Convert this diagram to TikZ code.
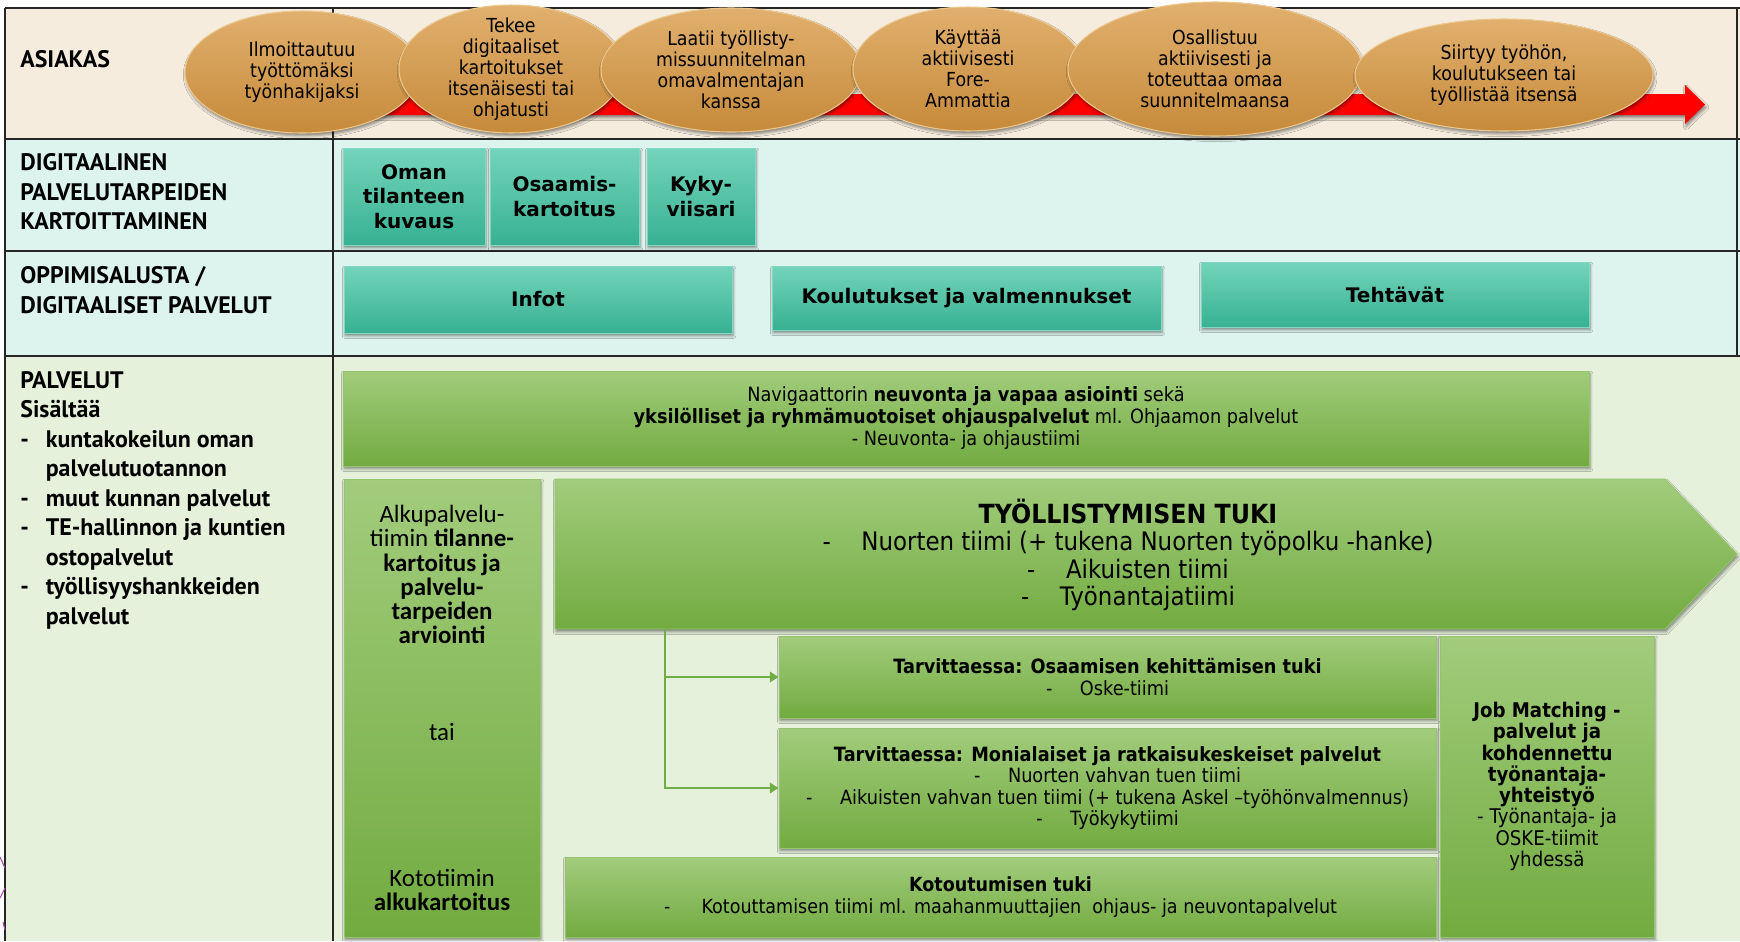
\documentclass[tikz,border=0pt]{standalone}
\usepackage{fontspec}
\usetikzlibrary{shapes.geometric,shadows.blur,arrows.meta}
\newfontfamily\tahoma[FakeStretch=0.9]{DejaVu Sans}
\newfontfamily\verdana{DejaVu Sans}
\newfontfamily\gothic{PT Sans}
\newfontfamily\calibri{Carlito}
\definecolor{rivibeige}{RGB}{245,236,222}
\definecolor{rivisyaani}{RGB}{221,243,238}
\definecolor{rivivihrea}{RGB}{230,241,220}
\definecolor{kultayla}{RGB}{225,176,110}
\definecolor{kultaala}{RGB}{198,138,58}
\definecolor{kultareuna}{RGB}{236,200,142}
\definecolor{turkoosiyla}{RGB}{115,212,187}
\definecolor{turkoosiala}{RGB}{55,177,146}
\definecolor{turkoosireuna}{RGB}{130,215,192}
\definecolor{vihreayla}{RGB}{162,204,124}
\definecolor{vihreaala}{RGB}{114,171,64}
\definecolor{vihreareuna}{RGB}{150,195,110}
\definecolor{viiva}{RGB}{112,173,71}
\tikzset{
	varjo/.style={blur shadow={shadow xshift=0.6pt, shadow yshift=-1.6pt, shadow blur radius=1.6pt, shadow opacity=45}},
	koko/.style 2 args={minimum width=#1*0.02cm, minimum height=#2*0.02cm},
	pallo/.style={ellipse, draw=kultareuna, line width=0.6pt, top color=kultayla, bottom color=kultaala, inner xsep=0pt, inner ysep=-14pt, align=center, font=\tahoma\fontsize{11}{12}\selectfont, varjo},
	laatta/.style={rectangle, draw=turkoosireuna, line width=0.5pt, top color=turkoosiyla, bottom color=turkoosiala, inner sep=0pt, align=center, font=\verdana\bfseries\fontsize{11.4}{13.8}\selectfont, varjo},
	palvelu/.style={rectangle, draw=vihreareuna, line width=0.5pt, top color=vihreayla, bottom color=vihreaala, inner sep=0pt, align=center, varjo},
	otsake/.style={anchor=west, inner sep=0pt, align=left, font=\gothic\bfseries\fontsize{13.6}{16.8}\selectfont},
	nuoli/.style={draw=viiva, line width=1.2pt, -{Triangle[length=5pt,width=6pt]}}
}

\begin{document}
\begin{tikzpicture}[x=0.02cm, y=-0.02cm]
	\useasboundingbox (0,0) rectangle (1740,941);
	\fill[white] (0,0) rectangle (1740,941);
	% taulukon rivit
	\fill[rivibeige] (5,8) rectangle (1740,139);
	\fill[rivisyaani] (5,139) rectangle (1740,356);
	\fill[rivivihrea] (5,356) rectangle (1740,941);
	\draw[line width=1.1pt, black!85] (5,8) -- (1740,8) (5,139) -- (1740,139) (5,251) -- (1740,251) (5,356) -- (1740,356) (5,8) -- (5,941) (333,8) -- (333,941) (1737,8) -- (1737,356);
	\draw[violet!70, line width=0.6pt] (0,857) -- (5,868) (5,888) -- (0,898) (3,922) -- (5,930);

	\node[otsake] (asiakas) at (20,59) {ASIAKAS};
	\node[otsake] (digitaalinen) at (20,192) {DIGITAALINEN\\PALVELUTARPEIDEN\\KARTOITTAMINEN};
	\node[otsake] (oppimisalusta) at (20,290) {OPPIMISALUSTA /\\DIGITAALISET PALVELUT};
	\node[otsake] (palvelut) at (20,500) {PALVELUT\\Sisältää\\\makebox[14.5pt][l]{-}kuntakokeilun oman\\\hspace*{14.5pt}palvelutuotannon\\\makebox[14.5pt][l]{-}muut kunnan palvelut\\\makebox[14.5pt][l]{-}TE-hallinnon ja kuntien\\\hspace*{14.5pt}ostopalvelut\\\makebox[14.5pt][l]{-}työllisyyshankkeiden\\\hspace*{14.5pt}palvelut};

	% asiakkaan polku
	\fill[red, varjo] (340,94) -- (1685,94) -- (1685,85) -- (1705,104.5) -- (1685,124) -- (1685,115) -- (340,115) -- cycle;
	\node[pallo, koko={234}{122}] (ilmoittautuu) at (302,72) {Ilmoittautuu\\työttömäksi\\työnhakijaksi};
	\node[pallo, koko={224}{128}] (tekee) at (511,69) {Tekee\\digitaaliset\\kartoitukset\\itsenäisesti tai\\ohjatusti};
	\node[pallo, koko={260}{124}] (laatii) at (731,70) {Laatii työllisty-\\missuunnitelman\\omavalmentajan\\kanssa};
	\node[pallo, koko={230}{124}] (kayttaa) at (968,69) {Käyttää\\aktiivisesti\\Fore-\\Ammattia};
	\node[pallo, koko={294}{134}] (osallistuu) at (1215,69) {Osallistuu\\aktiivisesti ja\\toteuttaa omaa\\suunnitelmaansa};
	\node[pallo, koko={298}{112}] (siirtyy) at (1504,75) {Siirtyy työhön,\\koulutukseen tai\\työllistää itsensä};

	% digitaaliset palvelut
	\node[laatta, koko={142}{97}] (oma) at (414,196.5) {Oman\\tilanteen\\kuvaus};
	\node[laatta, koko={149}{97}] (osaamis) at (564.5,196.5) {Osaamis-\\kartoitus};
	\node[laatta, koko={108}{97}] (kyky) at (701,196.5) {Kyky-\\viisari};
	\node[laatta, koko={388}{67}] (infot) at (538,299.5) {Infot};
	\node[laatta, koko={389}{64}] (koulutukset) at (966.5,298) {Koulutukset ja valmennukset};
	\node[laatta, koko={388}{65}] (tehtavat) at (1395,294.5) {Tehtävät};

	% palvelut
	\node[palvelu, koko={1246}{95}, font=\tahoma\fontsize{11.2}{12.5}\selectfont] (navigaattori) at (966,418.5) {Navigaattorin \textbf{neuvonta ja vapaa asiointi} sekä\\\textbf{yksilölliset ja ryhmämuotoiset ohjauspalvelut} ml. Ohjaamon palvelut\\- Neuvonta- ja ohjaustiimi};
	\node[palvelu, koko={196}{458}, font=\calibri\fontsize{14.2}{13.8}\selectfont] (alku) at (442,708) {Alkupalvelu-\\tiimin \textbf{tilanne-}\\\textbf{kartoitus ja}\\\textbf{palvelu-}\\\textbf{tarpeiden}\\\textbf{arviointi}\\[41pt]tai\\[69.5pt]Kototiimin\\\textbf{alkukartoitus}};
	\shade[top color=vihreayla, bottom color=vihreaala, draw=vihreareuna, line width=0.5pt, varjo] (555,479) -- (1665,479) -- (1737,554) -- (1665,629) -- (555,629) -- cycle;
	\node[align=center, font=\tahoma\fontsize{14.5}{15.6}\selectfont] (tuki) at (1128,555) {{\fontsize{15}{15.6}\selectfont\bfseries TYÖLLISTYMISEN TUKI}\\-\hspace{1.2em}Nuorten tiimi (+ tukena Nuorten työpolku -hanke)\\-\hspace{1.2em}Aikuisten tiimi\\-\hspace{1.2em}Työnantajatiimi};
	\node[palvelu, koko={657}{82}, font=\tahoma\fontsize{11.2}{12.2}\selectfont] (osaaminen) at (1107.5,677) {\textbf{Tarvittaessa: Osaamisen kehittämisen tuki}\\-\hspace{1.4em}Oske-tiimi};
	\node[palvelu, koko={657}{120}, font=\tahoma\fontsize{11.2}{12.2}\selectfont] (moniala) at (1107.5,788) {\textbf{Tarvittaessa: Monialaiset ja ratkaisukeskeiset palvelut}\\-\hspace{1.4em}Nuorten vahvan tuen tiimi\\-\hspace{1.4em}Aikuisten vahvan tuen tiimi (+ tukena Askel –työhönvalmennus)\\-\hspace{1.4em}Työkykytiimi};
	\node[palvelu, koko={871}{80}, font=\tahoma\fontsize{11.1}{12.5}\selectfont] (kotoutuminen) at (1000.5,897) {\textbf{Kotoutumisen tuki}\\-\hspace{1.6em}Kotouttamisen tiimi ml. maahanmuuttajien\ \ ohjaus- ja neuvontapalvelut};
	\node[palvelu, koko={214}{301}, font=\tahoma\fontsize{11.5}{12.1}\selectfont] (jobmatching) at (1547,786.5) {\textbf{Job Matching -}\\\textbf{palvelut ja}\\\textbf{kohdennettu}\\\textbf{työnantaja-}\\\textbf{yhteistyö}\\- Työnantaja- ja\\OSKE-tiimit\\yhdessä};

	\coordinate (jako) at (665,629);
	\draw[nuoli] (jako) |- (osaaminen.west);
	\draw[nuoli] (jako) |- (moniala.west);
\end{tikzpicture}
\end{document}
